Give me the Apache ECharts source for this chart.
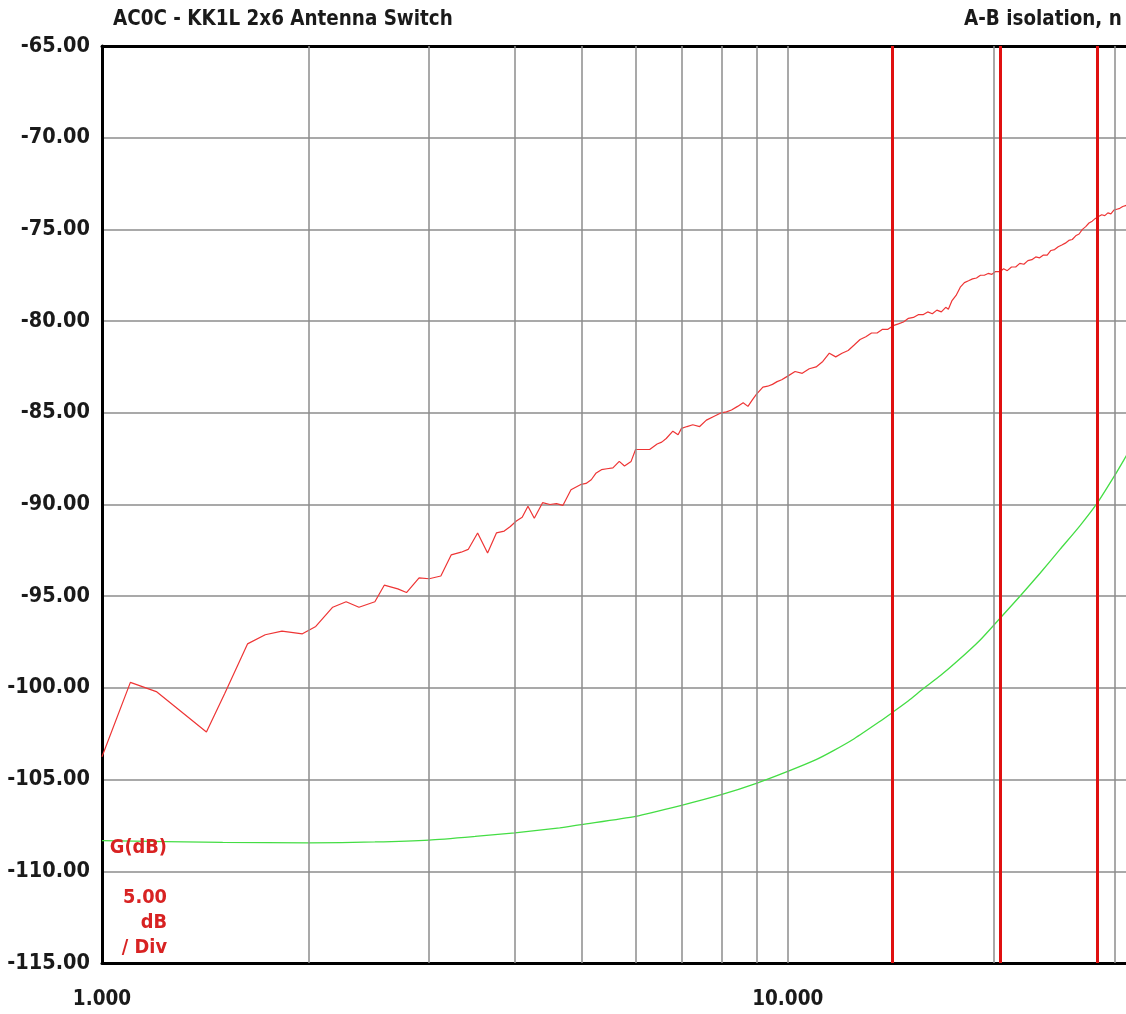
<!DOCTYPE html>
<html>
<head>
<meta charset="utf-8">
<script src="https://cdn.jsdelivr.net/npm/echarts@6/dist/echarts.min.js"></script>
<style>
  html, body { margin: 0; padding: 0; background: #ffffff; }
  #chart { width: 1126px; height: 1014px; }
</style>
</head>
<body>
<div id="chart"></div>
<script>
// A-B isolation sweep (MHz, dB)
const isoFreq = [
  1.00, 1.10, 1.20, 1.42, 1.51, 1.63, 1.73, 1.83, 1.96, 2.05,
  2.17, 2.27, 2.37, 2.50, 2.58, 2.70, 2.78, 2.90, 3.00, 3.12,
  3.23, 3.34, 3.42, 3.53, 3.65, 3.76, 3.86, 3.94, 4.02, 4.10,
  4.18, 4.27, 4.39, 4.50, 4.60, 4.70, 4.83, 5.00, 5.08, 5.17,
  5.25, 5.35, 5.45, 5.56, 5.68, 5.78, 5.91, 6.00, 6.15, 6.29,
  6.45, 6.55, 6.65, 6.80, 6.92, 7.00, 7.13, 7.27, 7.44, 7.61,
  7.80, 8.00, 8.14, 8.28, 8.45, 8.61, 8.75, 8.88, 9.00, 9.20,
  9.35, 9.50, 9.65, 9.80,
  10.00, 10.25, 10.50, 10.75, 11.00, 11.25, 11.50, 11.75, 12.00, 12.25,
  12.50, 12.75, 13.00, 13.25, 13.50, 13.75, 14.00, 14.25, 14.50, 14.75,
  15.00, 15.25, 15.50, 15.75, 16.00, 16.25, 16.50, 16.75, 17.00, 17.15,
  17.35, 17.60, 17.85, 18.10, 18.35, 18.60, 18.85, 19.10, 19.35, 19.60,
  19.85, 20.10, 20.40, 20.65, 20.90, 21.20, 21.50, 21.80, 22.10, 22.40,
  22.70, 23.00, 23.30, 23.60, 23.90, 24.20, 24.50, 24.80, 25.10, 25.40,
  25.70, 26.00, 26.30, 26.60, 26.90, 27.20, 27.50, 27.80, 28.10, 28.40,
  28.70, 29.00, 29.30, 29.60, 29.90, 30.20, 30.50, 30.80, 31.10, 31.40
];
const isoDb = [
  -103.75, -99.70, -100.20, -102.40, -100.30, -97.60, -97.10, -96.90, -97.05, -96.65,
  -95.60, -95.30, -95.60, -95.30, -94.40, -94.60, -94.80, -94.00, -94.05, -93.90,
  -92.75, -92.60, -92.45, -91.55, -92.65, -91.55, -91.45, -91.20, -90.90, -90.70,
  -90.10, -90.75, -89.90, -90.00, -89.95, -90.05, -89.20, -88.90, -88.85, -88.65,
  -88.30, -88.10, -88.05, -88.00, -87.65, -87.90, -87.65, -87.00, -87.00, -87.00,
  -86.70, -86.60, -86.40, -86.00, -86.20, -85.85, -85.75, -85.65, -85.75, -85.40,
  -85.20, -85.00, -84.95, -84.85, -84.65, -84.45, -84.65, -84.30, -84.00, -83.60,
  -83.55, -83.45, -83.30, -83.20,
  -83.00, -82.75, -82.85, -82.60, -82.50, -82.20, -81.75, -81.95, -81.75, -81.60,
  -81.30, -81.00, -80.85, -80.65, -80.65, -80.45, -80.45, -80.25, -80.15, -80.05,
  -79.85, -79.80, -79.65, -79.65, -79.50, -79.60, -79.40, -79.50, -79.25, -79.35,
  -78.90, -78.60, -78.15, -77.90, -77.80, -77.70, -77.65, -77.50, -77.50, -77.40,
  -77.45, -77.30, -77.30, -77.15, -77.25, -77.05, -77.05, -76.85, -76.90, -76.70,
  -76.65, -76.50, -76.55, -76.40, -76.40, -76.15, -76.10, -75.95, -75.85, -75.75,
  -75.60, -75.55, -75.35, -75.25, -75.00, -74.85, -74.65, -74.55, -74.40, -74.30,
  -74.20, -74.25, -74.10, -74.15, -73.95, -73.90, -73.85, -73.75, -73.70, -73.65
];

// Reference (through) trace
const refFreq = [
  1.00, 1.50, 2.00, 2.50, 3.00, 3.50, 4.00, 4.65, 5.00, 6.00,
  7.00, 8.00, 9.00, 10.00, 11.00, 11.66, 12.50, 13.60, 14.20, 15.00,
  15.76, 16.70, 17.63, 19.07, 20.40, 21.81, 23.33, 24.95, 26.69, 28.30,
  30.00, 30.94, 32.00
];
const refDb = [
  -108.33, -108.42, -108.45, -108.40, -108.30, -108.10, -107.90, -107.63, -107.45, -107.00,
  -106.40, -105.82, -105.20, -104.55, -103.91, -103.42, -102.77, -101.85, -101.35, -100.70,
  -100.05, -99.33, -98.58, -97.40, -96.20, -95.00, -93.75, -92.45, -91.15, -89.90,
  -88.40, -87.55, -86.60
];

// Band markers (MHz)
const markerFreq = [14.2, 20.4, 28.25];

// Vertical grid positions on the log frequency axis
const gridFreq = [2, 3, 4, 5, 6, 7, 8, 9, 10, 20, 30];

// Decade labels on the frequency axis
const xTickValues = [1, 10];

// Visible frequency span (MHz)
const xMin = 1;
const xMax = 31.14;

const titleLeft = 'AC0C - KK1L 2x6 Antenna Switch';
const titleRight = 'A-B isolation, n';
const scaleLabels = ['5.00', 'dB', '/ Div'];
const traceName = 'G(dB)';

const FONT = "'DejaVu Sans Condensed', 'DejaVu Sans', sans-serif";
const GRID_COLOR = '#8c8c8c';
const LABEL_RED = '#d82222';

const zip = (xs, ys) => xs.map((x, i) => [x, ys[i]]);
const isDecade = v => xTickValues.some(t => Math.abs(t - v) < 1e-6 * t);

const chart = echarts.init(document.getElementById('chart'), null, { renderer: 'canvas' });

const frameLine = { show: true, onZero: false, lineStyle: { color: '#000000', width: 3 } };

chart.setOption({
  animation: false,
  backgroundColor: '#ffffff',
  grid: {
    left: 102,
    top: 46,
    bottom: 51,
    right: 0,
    show: false
  },
  xAxis: [
    {
      type: 'log',
      logBase: 10,
      min: xMin,
      max: xMax,
      position: 'bottom',
      axisLine: frameLine,
      axisTick: { show: false },
      splitLine: { show: false },
      axisLabel: {
        formatter: v => (isDecade(v) ? Number(v).toFixed(3) : ''),
        showMaxLabel: false,
        fontFamily: FONT,
        fontWeight: 'bold',
        fontSize: 20.5,
        color: '#1a1a1a',
        margin: 26
      }
    },
    {
      type: 'log',
      logBase: 10,
      min: xMin,
      max: xMax,
      position: 'top',
      axisLine: frameLine,
      axisTick: { show: false },
      axisLabel: { show: false },
      splitLine: { show: false }
    }
  ],
  yAxis: {
    type: 'value',
    min: -115,
    max: -65,
    interval: 5,
    axisLine: frameLine,
    axisTick: { show: false },
    splitLine: { show: true, lineStyle: { color: GRID_COLOR, width: 1.5 } },
    axisLabel: {
      formatter: v => v.toFixed(2),
      fontFamily: FONT,
      fontWeight: 'bold',
      fontSize: 21.5,
      color: '#1a1a1a',
      margin: 12
    }
  },
  series: [
    {
      type: 'line',
      data: [],
      silent: true,
      z: 1,
      markLine: {
        silent: true,
        symbol: ['none', 'none'],
        label: { show: false },
        lineStyle: { color: GRID_COLOR, width: 1.5, type: 'solid' },
        data: gridFreq.map(f => ({ xAxis: f }))
      }
    },
    {
      name: 'reference',
      type: 'line',
      data: zip(refFreq, refDb),
      showSymbol: false,
      smooth: 0.2,
      z: 3,
      lineStyle: { color: '#44dd44', width: 1.3 },
      itemStyle: { color: '#44dd44' }
    },
    {
      name: 'isolation',
      type: 'line',
      data: zip(isoFreq, isoDb),
      showSymbol: false,
      z: 4,
      lineStyle: { color: '#ee3535', width: 1.2 },
      itemStyle: { color: '#ee3535' }
    },
    {
      type: 'line',
      data: [],
      silent: true,
      z: 5,
      markLine: {
        silent: true,
        symbol: ['none', 'none'],
        label: { show: false },
        lineStyle: { color: '#e01010', width: 3, type: 'solid' },
        data: markerFreq.map(f => ({ xAxis: f }))
      }
    }
  ],
  graphic: [
    {
      type: 'text', left: 113, top: 10, z: 10,
      style: { text: titleLeft, font: `bold 20.4px ${FONT}`, fill: '#1a1a1a' }
    },
    {
      type: 'text', left: 964, top: 10, z: 10,
      style: { text: titleRight, font: `bold 20.4px ${FONT}`, fill: '#1a1a1a' }
    },
    {
      type: 'text', right: 1126 - 167, top: 838, z: 10,
      style: { text: traceName, font: `bold 19.8px ${FONT}`, fill: LABEL_RED, textAlign: 'right' }
    },
    {
      type: 'text', right: 1126 - 167, top: 888, z: 10,
      style: { text: scaleLabels[0], font: `bold 19.8px ${FONT}`, fill: LABEL_RED, textAlign: 'right' }
    },
    {
      type: 'text', right: 1126 - 167, top: 913, z: 10,
      style: { text: scaleLabels[1], font: `bold 19.8px ${FONT}`, fill: LABEL_RED, textAlign: 'right' }
    },
    {
      type: 'text', right: 1126 - 167, top: 938, z: 10,
      style: { text: scaleLabels[2], font: `bold 19.8px ${FONT}`, fill: LABEL_RED, textAlign: 'right' }
    }
  ]
});
</script>
</body>
</html>
